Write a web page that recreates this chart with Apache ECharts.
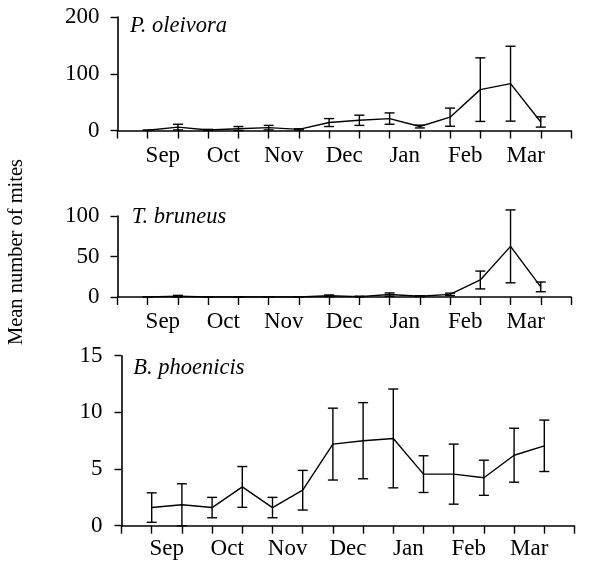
<!DOCTYPE html>
<html>
<head>
<meta charset="utf-8">
<script src="https://cdn.jsdelivr.net/npm/echarts@6/dist/echarts.min.js"></script>
<style>html,body{margin:0;padding:0;background:#fff}#c{width:602px;height:562px}</style>
</head>
<body>
<div id="c"></div>
<script>
// ---- data ----
const months = ['Sep', 'Oct', 'Nov', 'Dec', 'Jan', 'Feb', 'Mar'];
const monthPos = [1.5, 3.5, 5.5, 7.5, 9.5, 11.5, 13.5];
const samples = [1, 2, 3, 4, 5, 6, 7, 8, 9, 10, 11, 12, 13, 14];

const oleivoraMean = [0.5, 6, 1, 3, 5, 2, 14, 18, 21, 7, 23.5, 72, 82.5, 15];
const oleivoraErr  = [0, 5, 1, 4, 4, 1, 7, 9, 10, 2.5, 16, 56, 66, 9];

const bruneusMean = [0, 1, 0, 0, 0, 0, 1.5, 0.5, 3, 1, 3.3, 21, 62.5, 12.5];
const bruneusErr  = [0, 1, 0, 0, 0, 0, 1, 0.5, 2, 0.5, 1.5, 11, 45, 6];

const phoenicisMean = [1.6, 1.85, 1.6, 3.42, 1.6, 3.13, 7.2, 7.5, 7.7, 4.55, 4.55, 4.23, 6.22, 7.05];
const phoenicisErr  = [1.3, 1.85, 0.9, 1.8, 0.9, 1.75, 3.17, 3.36, 4.36, 1.62, 2.65, 1.55, 2.38, 2.27];

const species = ['P. oleivora', 'T. bruneus', 'B. phoenicis'];
const yMax = [200, 100, 15];
const yStep = [100, 50, 5];
const yLabel = 'Mean number of mites';

// ---- layout ----
const FONT = '"Liberation Serif", "Times New Roman", serif';
const grids = [
  {left: 117.5, top: 17, width: 453.5, height: 113.5},
  {left: 117.5, top: 216, width: 453.5, height: 81},
  {left: 121.5, top: 355.7, width: 453, height: 170}
];
const titlePos = [[130, 15], [131.7, 206], [133.3, 357]];
const yMargin = [18, 18, 19];
const xMargin = [14, 13, 12];
const means = [oleivoraMean, bruneusMean, phoenicisMean];
const errs = [oleivoraErr, bruneusErr, phoenicisErr];

const xAxis = [], yAxis = [], series = [], title = [];
grids.forEach((g, i) => {
  xAxis.push({
    type: 'value', gridIndex: i, min: 0, max: 15, interval: 1, position: 'bottom',
    axisLine: {show: true, lineStyle: {color: '#000', width: 1.6}},
    axisTick: {show: true, length: 8, inside: false, lineStyle: {color: '#000', width: 1.4}},
    axisLabel: {show: false}, splitLine: {show: false}
  });
  xAxis.push({
    type: 'value', gridIndex: i, min: 0, max: 15, interval: 0.5, position: 'bottom',
    axisLine: {show: false}, axisTick: {show: false}, splitLine: {show: false},
    axisLabel: {
      show: true, margin: xMargin[i], fontSize: 23, fontFamily: FONT, color: '#000',
      formatter: v => { const k = monthPos.indexOf(v); return k >= 0 ? months[k] : ''; }
    }
  });
  yAxis.push({
    type: 'value', gridIndex: i, min: 0, max: yMax[i], interval: yStep[i],
    axisLine: {show: true, lineStyle: {color: '#000', width: 1.6}},
    axisTick: {show: true, length: 7, inside: false, lineStyle: {color: '#000', width: 1.4}},
    axisLabel: {margin: yMargin[i], fontSize: 23, fontFamily: FONT, color: '#000'},
    splitLine: {show: false}
  });
  series.push({
    type: 'line', xAxisIndex: 2 * i, yAxisIndex: i, symbol: 'none', silent: true,
    lineStyle: {color: '#000', width: 1.4},
    data: samples.map((x, j) => [x, means[i][j]])
  });
  series.push({
    type: 'custom', xAxisIndex: 2 * i, yAxisIndex: i, silent: true, clip: false,
    data: samples.map((x, j) => [x, means[i][j], errs[i][j]]),
    renderItem: (params, api) => {
      const x = api.value(0), m = api.value(1), e = api.value(2);
      const t = api.coord([x, m + e]);
      const b = api.coord([x, Math.max(0, m - e)]);
      const hw = 5;
      const st = {stroke: '#000', lineWidth: 1.4, fill: null};
      return {type: 'group', children: [
        {type: 'line', shape: {x1: t[0], y1: t[1], x2: b[0], y2: b[1]}, style: st},
        {type: 'line', shape: {x1: t[0] - hw, y1: t[1], x2: t[0] + hw, y2: t[1]}, style: st},
        {type: 'line', shape: {x1: b[0] - hw, y1: b[1], x2: b[0] + hw, y2: b[1]}, style: st}
      ]};
    }
  });
  title.push({
    text: species[i], left: titlePos[i][0], top: titlePos[i][1], padding: 0,
    textStyle: {fontStyle: 'italic', fontWeight: 'normal', fontSize: 22.5, fontFamily: FONT, color: '#000'}
  });
});

const chart = echarts.init(document.getElementById('c'), null, {renderer: 'canvas'});
chart.setOption({
  animation: false,
  backgroundColor: '#fff',
  title, grid: grids, xAxis, yAxis, series,
  graphic: [{
    type: 'text', x: 17, y: 252, rotation: Math.PI / 2,
    style: {text: yLabel, font: '20.5px ' + FONT, fill: '#000', textAlign: 'center', textVerticalAlign: 'middle'}
  }]
});
</script>
</body>
</html>
